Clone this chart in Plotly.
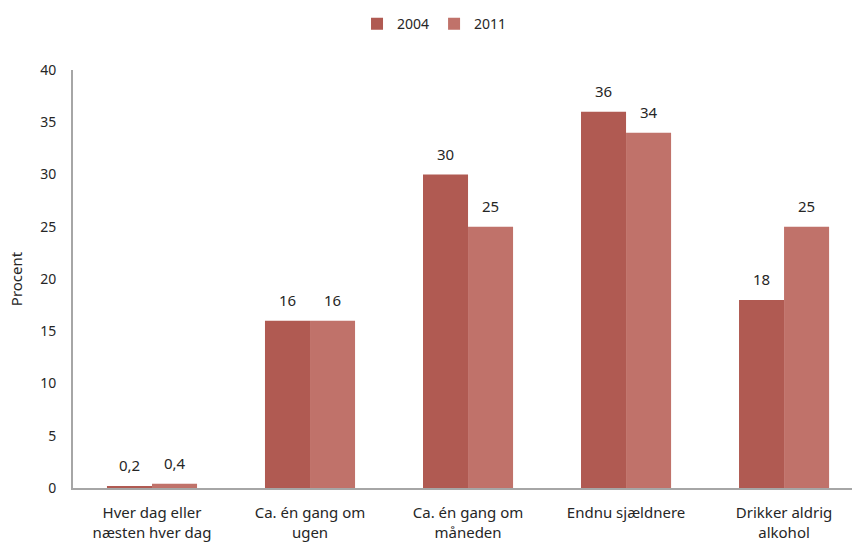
import plotly.graph_objects as go

categories = ["Hver dag eller<br>næsten hver dag", "Ca. én gang om<br>ugen",
              "Ca. én gang om<br>måneden", "Endnu sjældnere", "Drikker aldrig<br>alkohol"]
values_2004 = [0.2, 16, 30, 36, 18]
values_2011 = [0.4, 16, 25, 34, 25]
y_ticks = [0, 5, 10, 15, 20, 25, 30, 35, 40]

FONT = "Noto Sans, Open Sans, sans-serif"
TEXT = "#262626"
BAR_HALF_PX = 22.5  # centre offset of each bar inside its group


def fmt(v):
    return f"{v:g}".replace(".", ",")


fig = go.Figure()
series = [("2004", values_2004, "#B05A52", -1), ("2011", values_2011, "#C0726A", 1)]
for name, vals, color, side in series:
    fig.add_trace(go.Bar(
        name=name, x=categories, y=vals,
        marker=dict(color=color, line=dict(width=0)),
    ))
    for cat, v in zip(categories, vals):
        fig.add_annotation(
            x=cat, y=v, text=fmt(v), showarrow=False,
            xanchor="center", yanchor="bottom", xshift=side * BAR_HALF_PX, yshift=9,
            font=dict(size=15, color=TEXT, family=FONT),
        )

fig.update_layout(
    width=852, height=542,
    margin=dict(l=73, r=0, t=70, b=54),
    paper_bgcolor="white", plot_bgcolor="white",
    barmode="group", bargap=0.43, bargroupgap=0,
    font=dict(family=FONT, size=14, color=TEXT),
    separators=",.",
    showlegend=True,
    legend=dict(orientation="h", xref="container", x=0.51, xanchor="center",
                yref="container", y=0.985, yanchor="top",
                font=dict(size=14, color=TEXT), traceorder="normal"),
    xaxis=dict(range=[-0.5, 4.43], showline=True, linecolor="#A6A6A6", linewidth=2,
               ticks="", ticklabelstandoff=10, tickfont=dict(size=15, color=TEXT),
               showgrid=False, zeroline=False),
    yaxis=dict(range=[0, 40], tickvals=y_ticks, ticktext=[str(t) for t in y_ticks],
               showline=True, linecolor="#A6A6A6", linewidth=2, ticks="",
               ticklabelstandoff=12,
               showgrid=False, zeroline=False, tickfont=dict(size=14, color=TEXT),
               title=dict(text="Procent", font=dict(size=15, color=TEXT), standoff=14)),
)

fig.write_html("out.html")
